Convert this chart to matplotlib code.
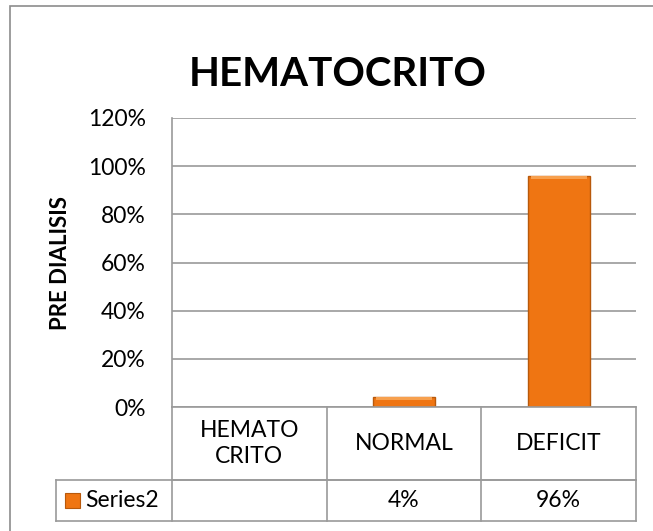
import numpy as np
import matplotlib
matplotlib.use("Agg")
import matplotlib.pyplot as plt
from matplotlib.patches import Rectangle
from matplotlib.lines import Line2D
import matplotlib.transforms as mtransforms

plt.rcParams['font.family'] = ['Lato', 'DejaVu Sans']

# data
categories = ["HEMATO\nCRITO", "NORMAL", "DEFICIT"]
values = [None, 0.04, 0.96]
series_name = "Series2"
title = "HEMATOCRITO"
ylabel = "PRE DIALISIS"
yticks = [0, 0.2, 0.4, 0.6, 0.8, 1.0, 1.2]

W, H = 653, 531
fig = plt.figure(figsize=(W / 100, H / 100), dpi=100)
fs = 16.5


def px(x0, y0, x1, y1):
    # pixel box (top-left origin) -> figure fraction [l, b, w, h]
    return [x0 / W, 1 - y1 / H, (x1 - x0) / W, (y1 - y0) / H]


# outer chart frame (right/bottom edges fall outside the image)
fig.patches.append(Rectangle((10 / W, -0.05), 1.1, 1 - 6 / H + 0.05,
                             transform=fig.transFigure, fill=False,
                             edgecolor='#8c8c8c', linewidth=1.2))

ax = fig.add_axes(px(172, 118, 636, 407))
grid_c = '#9a9a9a'
orange = '#ef7512'

x = np.arange(len(categories))
for i, v in enumerate(values):
    if v is None:
        continue
    ax.bar(x[i], v, width=0.4, color=orange, edgecolor='#b8590b', linewidth=1, zorder=3)
    # light bevel strip on top
    ax.bar(x[i], 0.012, bottom=v - 0.012, width=0.36, color='#f7a04e',
           linewidth=0, zorder=4)

ax.set_xlim(-0.5, len(categories) - 0.5)
ax.set_ylim(0, 1.2)
ax.set_yticks(yticks)
ax.set_yticklabels([f"{t:.0%}" for t in yticks], fontsize=fs)
ax.tick_params(axis='y', length=0, pad=19)
ax.set_xticks([])
ax.yaxis.grid(True, color=grid_c, linewidth=1.2)
ax.set_axisbelow(True)
for s in ['top', 'right', 'bottom']:
    ax.spines[s].set_visible(False)
ax.spines['left'].set_color(grid_c)
ax.spines['left'].set_linewidth(1.2)
ax.axhline(0, color=grid_c, linewidth=1.2, zorder=5, clip_on=False)

ax.set_ylabel(ylabel, fontsize=fs - 0.5, fontweight='bold', labelpad=12)

fig.text(338 / W, 1 - 74 / H, title, fontsize=29, fontweight='bold',
         ha='center', va='center')

# data table under the axis
trans = mtransforms.blended_transform_factory(ax.transData, ax.transAxes)
h_ax = 407 - 118
row1 = -(480 - 407) / h_ax
row2 = -(521 - 407) / h_ax
leg_left = (56 - 172) / (636 - 172)

for b in np.arange(len(categories) + 1) - 0.5:
    ax.add_line(Line2D([b, b], [0, row2], transform=trans, color=grid_c,
                       linewidth=1.2, clip_on=False))
ax.add_line(Line2D([-0.5, len(categories) - 0.5], [row1, row1], transform=trans,
                   color=grid_c, linewidth=1.2, clip_on=False))
ax.add_line(Line2D([leg_left, 1], [row1, row1], transform=ax.transAxes,
                   color=grid_c, linewidth=1.2, clip_on=False))
ax.add_line(Line2D([leg_left, 1], [row2, row2], transform=ax.transAxes,
                   color=grid_c, linewidth=1.2, clip_on=False))
ax.add_line(Line2D([leg_left, leg_left], [row1, row2], transform=ax.transAxes,
                   color=grid_c, linewidth=1.2, clip_on=False))

for i, c in enumerate(categories):
    ax.text(x[i], row1 / 2, c, transform=trans, ha='center', va='center',
            fontsize=fs, linespacing=1.35)
    if values[i] is not None:
        ax.text(x[i], (row1 + row2) / 2, f"{values[i]:.0%}", transform=trans,
                ha='center', va='center', fontsize=fs)

mx = (65 - 172) / (636 - 172)
mw = 15 / (636 - 172)
mh = 15 / h_ax
ax.add_patch(Rectangle((mx, (row1 + row2) / 2 - mh / 2), mw, mh, transform=ax.transAxes,
                       facecolor=orange, edgecolor='#b8590b', linewidth=0.8, clip_on=False))
ax.text((85 - 172) / (636 - 172), (row1 + row2) / 2, series_name, transform=ax.transAxes,
        ha='left', va='center', fontsize=fs)

fig.savefig("out.png", dpi=100)
